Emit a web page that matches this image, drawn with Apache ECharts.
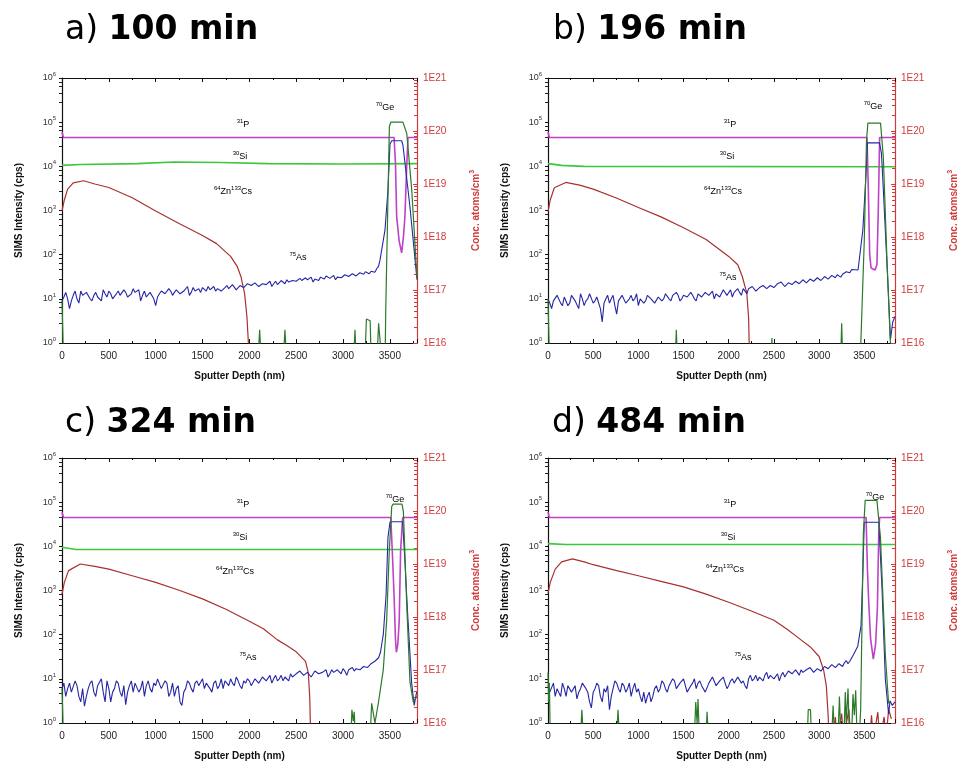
<!DOCTYPE html>
<html>
<head>
<meta charset="utf-8">
<script src="https://cdn.jsdelivr.net/npm/echarts@6/dist/echarts.min.js"></script>
<style>
html,body{margin:0;padding:0;background:#fff}
#main{width:960px;height:770px}
</style>
</head>
<body>
<div id="main"></div>
<script>
// SIMS depth profiles, 4 anneal times
var titles = [['a) ', '100 min'], ['b) ', '196 min'], ['c) ', '324 min'], ['d) ', '484 min']];
var depthMax = [3790, 3840, 3790, 3840];
var depthTicks = [0, 500, 1000, 1500, 2000, 2500, 3000, 3500];
var asStep = 20; // sampling step (nm) of the As noise arrays below

// ---- a) 100 min
var pA = [[0,60000],[15,45000],[3545,45000],[3560,12000],[3573,720],[3600,200],[3626,110],[3645,250],[3661,720],[3680,10000],[3694,45000],[3790,45000]];
var siA = [[0,10500],[200,11000],[800,11500],[1200,12500],[1700,12200],[2200,11500],[3000,11300],[3790,11500]];
var znA = [[0,3.1e18],[25,5e18],[60,8e18],[120,1.05e19],[231,1.15e19],[350,1.0e19],[500,8.6e18],[750,5.5e18],[1000,3.1e18],[1250,1.8e18],[1500,1.07e18],[1650,7.5e17],[1800,4.3e17],[1870,2.8e17],[1910,1.8e17],[1950,8.5e16],[1975,3e16],[1990,1e16],[2000,5e15]];
var asNoiseA = [9,11,14,10,6,9,12,15,10,8,15,12,11,14,13,10,9,12,14,11,
  12,9,16,13,11,15,13,10,10,13,15,12,12,16,14,11,11,13,17,14,
  13,16,9,12,15,11,12,14,14,10,7,11,13,15,16,13,12,17,15,12,
  14,16,17,13,13,15,16,19,12,14,18,15,15,17,14,18,17,15,19,16,
  16,19,15,17,18,15,14,18,20,17,17,21,19,16,16,20,21,18,18,22,
  22,20,19,23,23,19,20,22,24,21,21,25,19,22,25,21,22,26,24,22,
  27,24,23,26,28,25,25,29,26,24,30,27,27,31,24,28,29,26,31,28,
  28,33,32,29,30,34,27,31,33,30,31,35,35,32,32,37,36,33,34,39,
  38,36,41,38,37,42,44,40,48,55];
var asPeakA = [[3395,75],[3448,360],[3480,2900],[3502,32000],[3520,38000],[3626,38000],[3640,30000],[3715,1200],[3790,27]];
var geA = [[0,9],[15,0.5],[2095,0.5],[2110,2],[2125,0.5],[2365,0.5],[2380,2],[2395,0.5],[3115,0.5],[3128,2],[3140,0.5],[3235,0.5],[3250,3.5],[3290,3.2],[3300,0.5],[3365,0.5],[3380,2.8],[3400,2.8],[3410,0.5],[3450,0.5],[3456,5],[3495,80000],[3510,100000],[3640,100000],[3681,55000],[3734,2900],[3790,30]];

// ---- b) 196 min
var pB = [[0,60000],[15,45000],[3530,45000],[3545,3000],[3560,100],[3575,50],[3620,45],[3640,60],[3655,1000],[3670,45000],[3840,45000]];
var siB = [[0,11500],[150,10500],[400,10000],[3840,9800]];
var znB = [[0,3e18],[25,5e18],[70,8.5e18],[197,1.07e19],[350,9.5e18],[500,8e18],[750,5.5e18],[1000,3.6e18],[1250,2.4e18],[1500,1.5e18],[1750,9e17],[2000,4.3e17],[2100,3e17],[2150,1.8e17],[2200,8.7e16],[2220,3e16],[2230,5e15]];
var asNoiseB = [10,8,6,9,9,12,12,8,7,11,10,7,8,12,11,9,9,6,13,10,
  7,9,10,13,12,8,9,11,11,6,3,8,10,12,8,10,12,7,4.5,9,
  9,12,11,8,8,10,12,9,10,13,7,10,11,8,9,12,12,10,10,8,
  8,11,12,9,10,13,13,10,9,12,11,14,12,9,10,12,13,11,11,14,
  12,10,9,13,13,11,11,14,14,12,12,15,10,13,13,11,12,16,15,12,
  13,16,11,14,15,17,14,12,17,15,13,17,16,19,18,15,15,18,17,20,
  19,17,16,20,21,18,18,22,20,24,22,19,19,23,23,21,21,25,24,22,
  22,27,26,23,24,28,27,25,25,30,29,26,27,32,31,28,28,34,33,30,
  35,38,31,36,38,41,42,39,46,44];
var asPeakB = [[3431,45],[3484,360],[3520,7000],[3535,34000],[3668,34000],[3690,20000],[3711,2900],[3765,16],[3790,1.2],[3815,3],[3840,4]];
var geB = [[0,10],[15,0.5],[1410,0.5],[1420,2],[1430,0.5],[2470,0.5],[2478,1.3],[2486,0.5],[3240,0.5],[3250,2.8],[3260,0.5],[3455,0.5],[3463,1.2],[3500,210],[3525,40000],[3540,95000],[3680,95000],[3711,16000],[3750,90],[3786,1.3],[3800,0.5]];

// ---- c) 324 min
var pC = [[0,60000],[15,45000],[3510,45000],[3530,5000],[3545,800],[3560,80],[3570,40],[3585,60],[3600,200],[3615,8000],[3637,45000],[3790,45000]];
var siC = [[0,9500],[150,8500],[3790,8500]];
var znC = [[0,2.7e18],[25,4.5e18],[70,7.5e18],[195,1e19],[350,9e18],[500,8e18],[750,6e18],[1000,4.5e18],[1250,3.2e18],[1500,2.2e18],[1750,1.4e18],[2000,8.3e17],[2150,6e17],[2300,3.7e17],[2400,2.9e17],[2500,2.2e17],[2600,1.45e17],[2630,8.7e16],[2645,3e16],[2655,5e15]];
var asNoiseC = [6,8,4,6,8,5,5,9,7,4,3,6,2.4,4,6,8,9,5,4,7,
  7,10,5,3,9,6,3,5,6,9,8,5,4,7,2.6,5,7,9,5,8,
  8,5,6,9,4,7,9,6,5,8,7,10,10,6,6,9,8,4,5,8,
  4,6,7,3,2.5,5,6,9,8,6,5,8,9,7,7,10,6,8,8,6,
  5,8,9,6,7,10,6,9,8,7,10,8,7,11,9,7,6,9,8,10,
  9,7,7,10,10,8,8,11,11,9,9,12,8,10,12,9,10,12,9,11,
  11,9,13,11,10,13,12,15,14,12,11,14,13,11,12,15,15,13,12,14,
  14,16,11,13,16,14,13,16,15,13,17,15,12,16,16,18,15,17,18,16,
  17,19,20,18,19,22,22,25,24,30];
var asPeakC = [[3400,40],[3430,100],[3460,800],[3480,16000],[3502,36000],[3637,36000],[3660,5000],[3690,300],[3733,8],[3760,2.5],[3786,5]];
var geC = [[0,6],[15,0.5],[3085,0.5],[3095,2],[3110,1.1],[3120,1.8],[3130,0.5],[3290,0.5],[3306,2.8],[3341,1],[3377,2.8],[3430,16],[3466,210],[3493,7000],[3520,80000],[3535,90000],[3630,90000],[3645,60000],[3680,500],[3715,8.5],[3750,3],[3790,4]];

// ---- d) 484 min
var pD = [[0,60000],[15,45000],[3520,45000],[3535,3000],[3550,500],[3570,80],[3600,28],[3625,60],[3645,400],[3660,20000],[3670,45000],[3840,45000]];
var siD = [[0,11500],[200,11000],[3840,11000]];
var znD = [[0,2.8e18],[25,4.5e18],[80,8e18],[150,1.1e19],[270,1.25e19],[400,1.1e19],[500,9.7e18],[750,7.6e18],[1000,6e18],[1250,4.7e18],[1500,3.7e18],[1750,2.7e18],[2000,1.9e18],[2250,1.3e18],[2500,8.7e17],[2650,5.8e17],[2800,3.7e17],[2900,2.75e17],[3000,1.8e17],[3050,1e17],[3080,5e16],[3100,1.4e16],[3110,5e15],
  [3150,5e15],[3180,1.3e16],[3200,5e15],[3250,1.5e16],[3270,5e15],[3330,1.8e16],[3350,5e15],[3560,5e15],[3580,1.4e16],[3600,5e15],[3650,1.6e16],[3670,5e15],[3720,1.3e16],[3740,5e15],[3770,1.8e16],[3800,1.2e16]];
var asNoiseD = [7,5,5,8,4,6,6,4,8,6,4,7,7,5,5,7,3.5,5,6,8,
  8,6,5,3,2.2,5,6,8,7,4,3,6,5,7,2,4,6,9,8,6,
  5,8,7,5,6,8,4,6,8,5,6,4,3,5,2.8,4,5,3,4,6,
  7,5,6,9,8,6,5,7,7,10,9,6,6,8,8,10,7,5,5,7,
  8,10,6,8,9,7,7,5,5,8,8,11,10,7,7,9,9,11,8,6,
  7,9,10,8,8,11,11,8,9,7,6,10,12,9,10,12,9,11,11,9,
  12,14,10,12,13,10,11,13,9,12,14,11,12,15,15,13,13,16,14,12,
  16,14,13,16,15,18,17,14,14,17,18,15,16,19,19,17,17,21,20,18,
  18,22,21,19,23,26,22,25,26,35];
var asPeakD = [[3428,55],[3464,160],[3485,3000],[3500,35000],[3661,35000],[3697,1000],[3733,10],[3769,1.6],[3785,3.2],[3810,2.5],[3840,3]];
var geD = [[0,14],[8,3],[15,8],[25,0.5],[360,0.5],[375,2],[390,0.5],[760,0.5],[775,2],[790,0.5],[1620,0.5],[1635,3],[1650,1],[1660,3.5],[1675,0.5],[1750,0.5],[1760,1.8],[1775,0.5],[2870,0.5],[2880,2],[2905,2],[2915,0.5],
  [3140,0.5],[3155,2.5],[3170,0.5],[3210,0.5],[3225,4],[3240,0.5],[3275,0.5],[3290,5],[3300,1],[3320,6],[3335,0.5],[3360,0.5],[3375,4.5],[3390,1.5],[3405,5.5],[3420,0.5],[3445,0.5],[3460,2],[3490,20000],[3510,110000],[3640,110000],[3679,16000],[3733,35],[3769,2.8],[3790,3]];

var panels = [
  {p: pA, si: siA, zn: znA, asNoise: asNoiseA, asPeak: asPeakA, ge: geA},
  {p: pB, si: siB, zn: znB, asNoise: asNoiseB, asPeak: asPeakB, ge: geB},
  {p: pC, si: siC, zn: znC, asNoise: asNoiseC, asPeak: asPeakC, ge: geC},
  {p: pD, si: siD, zn: znD, asNoise: asNoiseD, asPeak: asPeakD, ge: geD}
];

// layout
var grids = [
  {left: 62, top: 78, width: 355, height: 265},
  {left: 548, top: 78, width: 357, height: 265},
  {left: 62, top: 458, width: 355, height: 265},
  {left: 548, top: 458, width: 357, height: 265}
];
var titlePos = [[65, 30], [553, 30], [65, 423], [552, 423]];
// label offsets from grid top-left: Ge, P, Si, Zn, As
var labelPos = [
  [[323,30],[181,47],[178,79],[171,114],[236,180]],
  [[325,29],[182,47],[179,79],[175,114],[180,200]],
  [[333,42],[181,47],[178,80],[173,114],[186,200]],
  [[327,40],[182,47],[180,80],[177,112],[195,200]]
];

var C = {p: '#c040c8', si: '#3cc83c', ge: '#2a7a2a', as: '#2626a6', zn: '#a83030', red: '#d03a3a'};
var FONT = 'Liberation Sans';

function supRich(color, size) {
  return {
    n: {fontSize: size, color: color, fontFamily: FONT, lineHeight: size + 4},
    s: {fontSize: size - 3, color: color, fontFamily: FONT, verticalAlign: 'top', lineHeight: size - 3}
  };
}

var option = {
  animation: false,
  backgroundColor: '#fff',
  grid: [], xAxis: [], yAxis: [], series: [], graphic: []
};

panels.forEach(function (pn, i) {
  var g = grids[i];
  option.grid.push({left: g.left, top: g.top, width: g.width, height: g.height, containLabel: false});
  // bottom + top x axes
  option.xAxis.push({
    type: 'value', gridIndex: i, min: 0, max: depthMax[i], interval: 500,
    name: 'Sputter Depth (nm)', nameLocation: 'middle', nameGap: 28,
    nameTextStyle: {fontSize: 10, fontWeight: 'bold', color: '#111', fontFamily: FONT},
    axisLine: {onZero: false, lineStyle: {color: '#111', width: 1.2}},
    axisTick: {inside: true, length: 4, lineStyle: {color: '#111'}},
    minorTick: {show: true, splitNumber: 2, length: 2, lineStyle: {color: '#111'}},
    axisLabel: {fontSize: 10, color: '#222', margin: 8, fontFamily: FONT,
      formatter: function (v) { return depthTicks.indexOf(v) >= 0 ? String(v) : ''; }},
    splitLine: {show: false}
  });
  option.xAxis.push({
    type: 'value', gridIndex: i, position: 'top', min: 0, max: depthMax[i], interval: 500,
    axisLine: {onZero: false, lineStyle: {color: '#111', width: 1.2}},
    axisTick: {inside: true, length: 4, lineStyle: {color: '#111'}},
    minorTick: {show: true, splitNumber: 2, length: 2, lineStyle: {color: '#111'}},
    axisLabel: {show: false}, splitLine: {show: false}
  });
  // left (cps) + right (conc) y axes
  option.yAxis.push({
    type: 'log', logBase: 10, gridIndex: i, min: 1, max: 1e6, splitNumber: 6,
    name: 'SIMS Intensity (cps)', nameLocation: 'middle', nameGap: 38, nameRotate: 90,
    nameTextStyle: {fontSize: 10, fontWeight: 'bold', color: '#111', fontFamily: FONT},
    axisLine: {show: true, onZero: false, lineStyle: {color: '#111', width: 1.2}},
    axisTick: {inside: false, length: 3, lineStyle: {color: '#111'}},
    minorTick: {show: true, splitNumber: 5, length: 3, lineStyle: {color: '#222'}},
    axisLabel: {margin: 6, formatter: function (v) {
      return '{n|10}{s|' + Math.round(Math.log10(v)) + '}'; }, rich: supRich('#333', 9)},
    splitLine: {show: false}
  });
  option.yAxis.push({
    type: 'log', logBase: 10, gridIndex: i, position: 'right', min: 1e16, max: 1e21, splitNumber: 5,
    name: '{r|Conc. atoms/cm}{rs|3}', nameLocation: 'middle', nameGap: 52, nameRotate: 90,
    nameTextStyle: {rich: {
      r: {fontSize: 10, fontWeight: 'bold', color: C.red, fontFamily: FONT, lineHeight: 14},
      rs: {fontSize: 7, fontWeight: 'bold', color: C.red, fontFamily: FONT, verticalAlign: 'top', lineHeight: 7}}},
    axisLine: {show: true, onZero: false, lineStyle: {color: C.red, width: 1.2}},
    axisTick: {inside: true, length: 4, lineStyle: {color: C.red}},
    minorTick: {show: true, splitNumber: 9, length: 3, lineStyle: {color: C.red}},
    axisLabel: {fontSize: 10, color: C.red, margin: 6, fontFamily: FONT,
      formatter: function (v) { return '1E' + Math.round(Math.log10(v)); }},
    splitLine: {show: false}
  });

  var asData = pn.asNoise.map(function (v, k) { return [k * asStep, v]; }).concat(pn.asPeak);
  var base = {type: 'line', showSymbol: false, symbol: 'none', clip: true, xAxisIndex: 2 * i, silent: true};
  function line(name, data, color, width, yIdx) {
    return Object.assign({}, base, {name: name, data: data, yAxisIndex: yIdx,
      lineStyle: {color: color, width: width}, itemStyle: {color: color}});
  }
  option.series.push(line('30Si', pn.si, C.si, 1.6, 2 * i));
  option.series.push(line('31P', pn.p, C.p, 1.6, 2 * i));
  option.series.push(line('64Zn133Cs', pn.zn, C.zn, 1.2, 2 * i + 1));
  option.series.push(line('75As', asData, C.as, 1.1, 2 * i));
  option.series.push(line('70Ge', pn.ge, C.ge, 1.2, 2 * i));

  // title
  option.graphic.push({
    type: 'text', x: titlePos[i][0], y: titlePos[i][1],
    style: {text: '{a|' + titles[i][0] + '}{b|' + titles[i][1] + '}', verticalAlign: 'middle',
      rich: {a: {fontSize: 33, fontFamily: 'DejaVu Sans', color: '#111'},
             b: {fontSize: 33, fontFamily: 'DejaVu Sans', fontWeight: 'bold', color: '#111'}}}
  });
  // species labels
  var lbl = [
    ['{s|70}{n|Ge}', '#2e8b2e'], ['{s|31}{n|P}', C.p], ['{s|30}{n|Si}', '#3cb43c'],
    ['{s|64}{n|Zn}{s|133}{n|Cs}', C.zn], ['{s|75}{n|As}', C.as]
  ];
  lbl.forEach(function (l, k) {
    option.graphic.push({
      type: 'text', x: g.left + labelPos[i][k][0], y: g.top + labelPos[i][k][1],
      style: {text: l[0], align: 'center', verticalAlign: 'middle', rich: supRich(l[1], 9)}
    });
  });
});

var chart = echarts.init(document.getElementById('main'));
chart.setOption(option);
</script>
</body>
</html>
